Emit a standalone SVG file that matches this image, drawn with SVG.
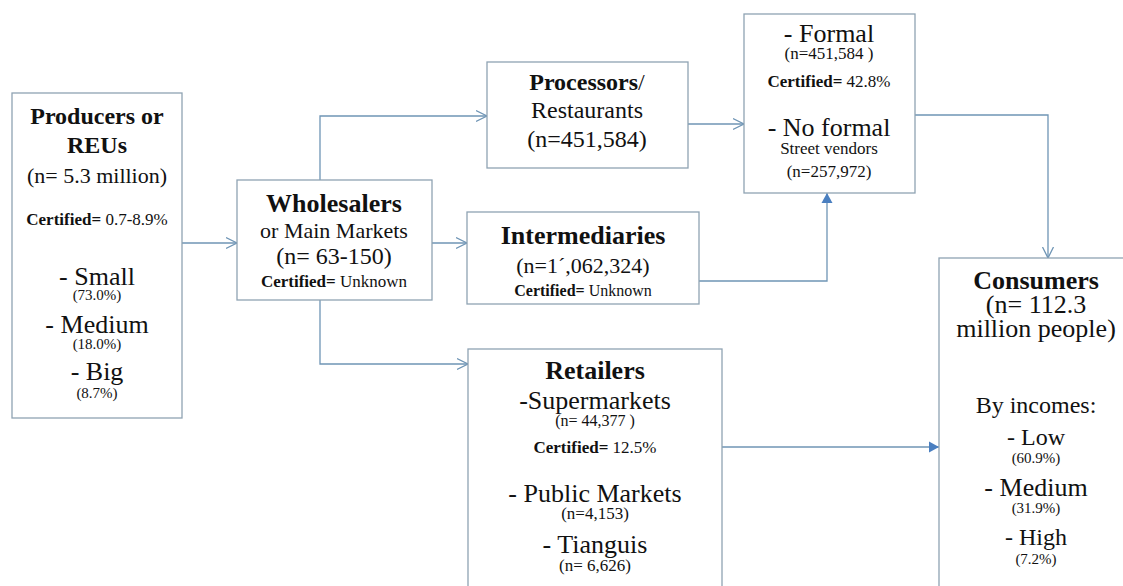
<svg xmlns="http://www.w3.org/2000/svg" width="1123" height="586" viewBox="0 0 1123 586">
<style>
  .box { fill: #ffffff; stroke: #8fa3b3; stroke-width: 1.3; }
  .conn { fill: none; stroke: #6f95b5; stroke-width: 1.3; }
</style>
<defs>
  <marker id="open" markerUnits="userSpaceOnUse" markerWidth="14" markerHeight="14" refX="11" refY="6" orient="auto" viewBox="0 0 14 12">
    <path d="M0,0.5 L11,6 L0,11.5" fill="none" stroke="#6f95b5" stroke-width="1.3"/>
  </marker>
  <marker id="solid" markerUnits="userSpaceOnUse" markerWidth="12" markerHeight="12" refX="10" refY="6" orient="auto" viewBox="0 0 12 12">
    <path d="M0,0.5 L10,6 L0,11.5 Z" fill="#4a7fc0"/>
  </marker>
</defs>
<rect width="1123" height="586" fill="#ffffff"/>

<g id="connectors">
  <line class="conn" x1="182" y1="243" x2="237" y2="243" marker-end="url(#open)"/>
  <polyline class="conn" points="320,180 320,116 487,116" marker-end="url(#open)"/>
  <line class="conn" x1="432" y1="243" x2="467" y2="243" marker-end="url(#open)"/>
  <polyline class="conn" points="320,300 320,364 468,364" marker-end="url(#open)"/>
  <line class="conn" x1="688" y1="124" x2="744" y2="124" marker-end="url(#open)"/>
  <polyline class="conn" points="915,115 1048,115 1048,258" marker-end="url(#open)"/>
  <polyline class="conn" points="699,281 827,281 827,193" marker-end="url(#solid)"/>
  <line class="conn" x1="722" y1="447" x2="939" y2="447" marker-end="url(#solid)"/>
</g>

<g id="producers" text-anchor="middle" fill="#111111">
  <rect class="box" x="12" y="93" width="170" height="325"/>
  <text x="97" y="124" font-family="Liberation Serif" font-size="24" font-weight="bold">Producers or</text>
  <text x="97" y="153" font-family="Liberation Serif" font-size="24" font-weight="bold">REUs</text>
  <text x="97" y="183" font-family="Liberation Serif" font-size="22">(n= 5.3 million)</text>
  <text x="97" y="225" font-family="Liberation Serif" font-size="17"><tspan font-weight="bold">Certified=</tspan> 0.7-8.9%</text>
  <text x="97" y="285" font-family="Liberation Serif" font-size="26">- Small</text>
  <text x="97" y="300" font-family="Liberation Serif" font-size="15">(73.0%)</text>
  <text x="97" y="333" font-family="Liberation Serif" font-size="26">- Medium</text>
  <text x="97" y="349" font-family="Liberation Serif" font-size="15">(18.0%)</text>
  <text x="97" y="380" font-family="Liberation Serif" font-size="26">- Big</text>
  <text x="97" y="398" font-family="Liberation Serif" font-size="15">(8.7%)</text>
</g>

<g id="wholesalers" text-anchor="middle" fill="#111111">
  <rect class="box" x="237" y="180" width="195" height="120"/>
  <text x="334" y="212" font-family="Liberation Serif" font-size="26" font-weight="bold">Wholesalers</text>
  <text x="334" y="238" font-family="Liberation Serif" font-size="22">or Main Markets</text>
  <text x="334" y="264" font-family="Liberation Serif" font-size="24">(n= 63-150)</text>
  <text x="334" y="287" font-family="Liberation Serif" font-size="17"><tspan font-weight="bold">Certified=</tspan> Unknown</text>
</g>

<g id="processors" text-anchor="middle" fill="#111111">
  <rect class="box" x="487" y="62" width="201" height="106"/>
  <text x="587" y="90" font-family="Liberation Serif" font-size="24"><tspan font-weight="bold">Processors</tspan>/</text>
  <text x="587" y="118" font-family="Liberation Serif" font-size="24">Restaurants</text>
  <text x="587" y="147" font-family="Liberation Serif" font-size="24">(n=451,584)</text>
</g>

<g id="formal" text-anchor="middle" fill="#111111">
  <rect class="box" x="744" y="14" width="171" height="179"/>
  <text x="829" y="42" font-family="Liberation Serif" font-size="26">- Formal</text>
  <text x="829" y="59" font-family="Liberation Serif" font-size="17">(n=451,584 )</text>
  <text x="829" y="87" font-family="Liberation Serif" font-size="17"><tspan font-weight="bold">Certified=</tspan> 42.8%</text>
  <text x="829" y="136" font-family="Liberation Serif" font-size="26">- No formal</text>
  <text x="829" y="154" font-family="Liberation Serif" font-size="17">Street vendors</text>
  <text x="829" y="177" font-family="Liberation Serif" font-size="17">(n=257,972)</text>
</g>

<g id="intermediaries" text-anchor="middle" fill="#111111">
  <rect class="box" x="467" y="212" width="232" height="92"/>
  <text x="583" y="244" font-family="Liberation Serif" font-size="26" font-weight="bold">Intermediaries</text>
  <text x="583" y="273" font-family="Liberation Serif" font-size="22">(n=1´,062,324)</text>
  <text x="583" y="296" font-family="Liberation Serif" font-size="16"><tspan font-weight="bold">Certified=</tspan> Unknown</text>
</g>

<g id="retailers" text-anchor="middle" fill="#111111">
  <rect class="box" x="468" y="349" width="254" height="260"/>
  <text x="595" y="379" font-family="Liberation Serif" font-size="26" font-weight="bold">Retailers</text>
  <text x="595" y="409" font-family="Liberation Serif" font-size="26">-Supermarkets</text>
  <text x="595" y="426" font-family="Liberation Serif" font-size="16">(n= 44,377 )</text>
  <text x="595" y="453" font-family="Liberation Serif" font-size="17"><tspan font-weight="bold">Certified=</tspan> 12.5%</text>
  <text x="595" y="502" font-family="Liberation Serif" font-size="26">- Public Markets</text>
  <text x="595" y="519" font-family="Liberation Serif" font-size="17">(n=4,153)</text>
  <text x="595" y="553" font-family="Liberation Serif" font-size="26">- Tianguis</text>
  <text x="595" y="571" font-family="Liberation Serif" font-size="17">(n= 6,626)</text>
</g>

<g id="consumers" text-anchor="middle" fill="#111111">
  <rect class="box" x="939" y="258" width="195" height="350"/>
  <text x="1036" y="289" font-family="Liberation Serif" font-size="26" font-weight="bold">Consumers</text>
  <text x="1036" y="313" font-family="Liberation Serif" font-size="26">(n= 112.3</text>
  <text x="1036" y="337" font-family="Liberation Serif" font-size="26">million people)</text>
  <text x="1036" y="413" font-family="Liberation Serif" font-size="24">By incomes:</text>
  <text x="1036" y="445" font-family="Liberation Serif" font-size="24">- Low</text>
  <text x="1036" y="463" font-family="Liberation Serif" font-size="15">(60.9%)</text>
  <text x="1036" y="496" font-family="Liberation Serif" font-size="26">- Medium</text>
  <text x="1036" y="513" font-family="Liberation Serif" font-size="15">(31.9%)</text>
  <text x="1036" y="545" font-family="Liberation Serif" font-size="24">- High</text>
  <text x="1036" y="564" font-family="Liberation Serif" font-size="15">(7.2%)</text>
</g>
</svg>
